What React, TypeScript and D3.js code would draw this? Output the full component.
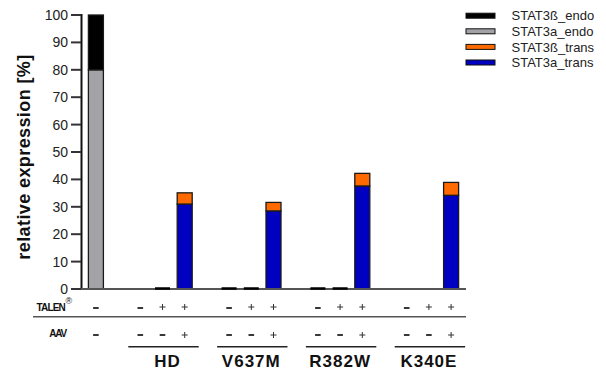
import React from "react";
import * as d3 from "d3";

const slots = ["ctrl", "g1", "HD1", "HD2", "HD3", "g2", "V1", "V2", "V3", "g3", "R1", "R2", "R3", "g4", "K1", "K2", "K3"];
const barSlots = ["ctrl", "HD1", "HD2", "HD3", "V1", "V2", "V3", "R1", "R2", "R3", "K1", "K2", "K3"];
const alphaEndo = [80, 0, 0, 0, 0, 0, 0, 0, 0, 0, 0, 0, 0];
const betaEndo = [20, 0, 0, 0, 0, 0, 0, 0, 0, 0, 0, 0, 0];
const betaTrans = [0, 0, 0, 4.1, 0, 0, 3.1, 0, 0, 4.6, 0, 0, 4.7];
const alphaTrans = [0, 0, 0, 31, 0, 0, 28.5, 0, 0, 37.6, 0, 0, 34.2];
const zeroVisible = [false, false, true, false, true, true, false, true, true, false, false, false, false];
const talen = ["-", "-", "+", "+", "-", "+", "+", "-", "+", "+", "-", "+", "+"];
const aav = ["-", "-", "-", "+", "-", "-", "+", "-", "-", "+", "-", "-", "+"];
const groups = ["HD", "V637M", "R382W", "K340E"];
const groupSlots = [["HD1", "HD3"], ["V1", "V3"], ["R1", "R3"], ["K1", "K3"]];
const yTicks = [0, 10, 20, 30, 40, 50, 60, 70, 80, 90, 100];
const seriesNames = ["STAT3ß_endo", "STAT3a_endo", "STAT3ß_trans", "STAT3a_trans"];
const seriesColors = ["#000000", "#a3a3a7", "#ff6a00", "#0000c0"];

export default function App() {
  const W = 606, H = 370;
  const x = d3.scaleBand<string>().domain(slots).range([81, 466]).paddingInner(0.324).paddingOuter(0.333);
  const y = d3.scaleLinear().domain([0, 100]).range([289, 15]);
  const bw = x.bandwidth();
  const font = "'Liberation Sans', Arial, sans-serif";

  const stacks: { key: string; i: number; lo: number; hi: number; color: string }[] = [];
  barSlots.forEach((k, i) => {
    const parts = [
      { v: alphaEndo[i], c: seriesColors[1] },
      { v: betaEndo[i], c: seriesColors[0] },
      { v: alphaTrans[i], c: seriesColors[3] },
      { v: betaTrans[i], c: seriesColors[2] },
    ];
    let acc = 0;
    parts.forEach((p) => {
      if (p.v > 0) {
        stacks.push({ key: k, i, lo: acc, hi: acc + p.v, color: p.c });
        acc += p.v;
      }
    });
  });

  const cx = (k: string) => (x(k) as number) + bw / 2;

  const sign = (s: string, xc: number, yc: number, key: string) =>
    s === "-" ? (
      <line key={key} x1={xc - 2.8} x2={xc + 2.8} y1={yc} y2={yc} stroke="#222" strokeWidth={1.8} />
    ) : (
      <g key={key} stroke="#333" strokeWidth={1}>
        <line x1={xc - 3} x2={xc + 3} y1={yc - 2} y2={yc - 2} />
        <line x1={xc} x2={xc} y1={yc - 5} y2={yc + 1} />
      </g>
    );

  return (
    <svg width={W} height={H} style={{ position: "absolute", left: 0, top: 0 }} fontFamily={font}>
      <rect width={W} height={H} fill="#fff" />
      {stacks.map((s, j) => (
        <rect key={j} x={x(s.key)} y={y(s.hi)} width={bw} height={y(s.lo) - y(s.hi)}
          fill={s.color} stroke="#1a1a1a" strokeWidth={1.3} />
      ))}
      <line x1={81.5} x2={81.5} y1={y(100) - 1} y2={y(0) + 1} stroke="#111" strokeWidth={2} />
      <line x1={80} x2={466} y1={y(0)} y2={y(0)} stroke="#555" strokeWidth={2} />
      {barSlots.map((k, i) => zeroVisible[i] ? (
        <line key={"z" + k} x1={x(k)} x2={(x(k) as number) + bw} y1={y(0) - 0.5} y2={y(0) - 0.5} stroke="#000" strokeWidth={2.5} />
      ) : null)}
      {yTicks.map((t) => (
        <g key={t}>
          <line x1={71} x2={81} y1={y(t)} y2={y(t)} stroke="#333" strokeWidth={2} />
          <text x={68} y={y(t)} dy="0.36em" textAnchor="end" fontSize={14} fill="#222">{t}</text>
        </g>
      ))}
      <text transform={`translate(30,157) rotate(-90)`} textAnchor="middle" fontSize={18} fontWeight="bold" fill="#111" letterSpacing={0.4}>
        relative expression [%]
      </text>
      <text x={65} y={311} textAnchor="end" fontSize={10} fontWeight="bold" letterSpacing={-0.8} fill="#111">TALEN</text>
      <text x={65.5} y={304} fontSize={9} fill="#111">®</text>
      <text x={66} y={337} textAnchor="end" fontSize={10} fontWeight="bold" letterSpacing={-1.2} fill="#111">AAV</text>
      <line x1={33} x2={466} y1={316.7} y2={316.7} stroke="#555" strokeWidth={1.5} />
      {barSlots.map((k, i) => (
        <g key={"s" + k}>
          {sign(talen[i], cx(k), talen[i] === "-" ? 308 : 309, "t" + k)}
          {sign(aav[i], cx(k), aav[i] === "-" ? 335 : 337, "a" + k)}
        </g>
      ))}
      {groups.map((g, gi) => {
        const a = cx(groupSlots[gi][0]);
        const b = cx(groupSlots[gi][1]);
        const m = (a + b) / 2;
        return (
          <g key={g}>
            <line x1={a - 12} x2={b + 14} y1={346.7} y2={346.7} stroke="#222" strokeWidth={1.5} />
            <text x={m + (gi === 0 ? 5 : 0)} y={367} textAnchor="middle" fontSize={17} fontWeight="bold" letterSpacing={1} fill="#111">{g}</text>
          </g>
        );
      })}
      {seriesNames.map((n, i) => (
        <g key={n} transform={`translate(466,${15.7 + i * 15.6})`}>
          <rect x={0} y={-2.5} width={29} height={5} fill={seriesColors[i]} stroke="#111" strokeWidth={1} />
          <text x={45.5} y={0} dy="0.36em" fontSize={13} fill="#222">{n}</text>
        </g>
      ))}
    </svg>
  );
}
